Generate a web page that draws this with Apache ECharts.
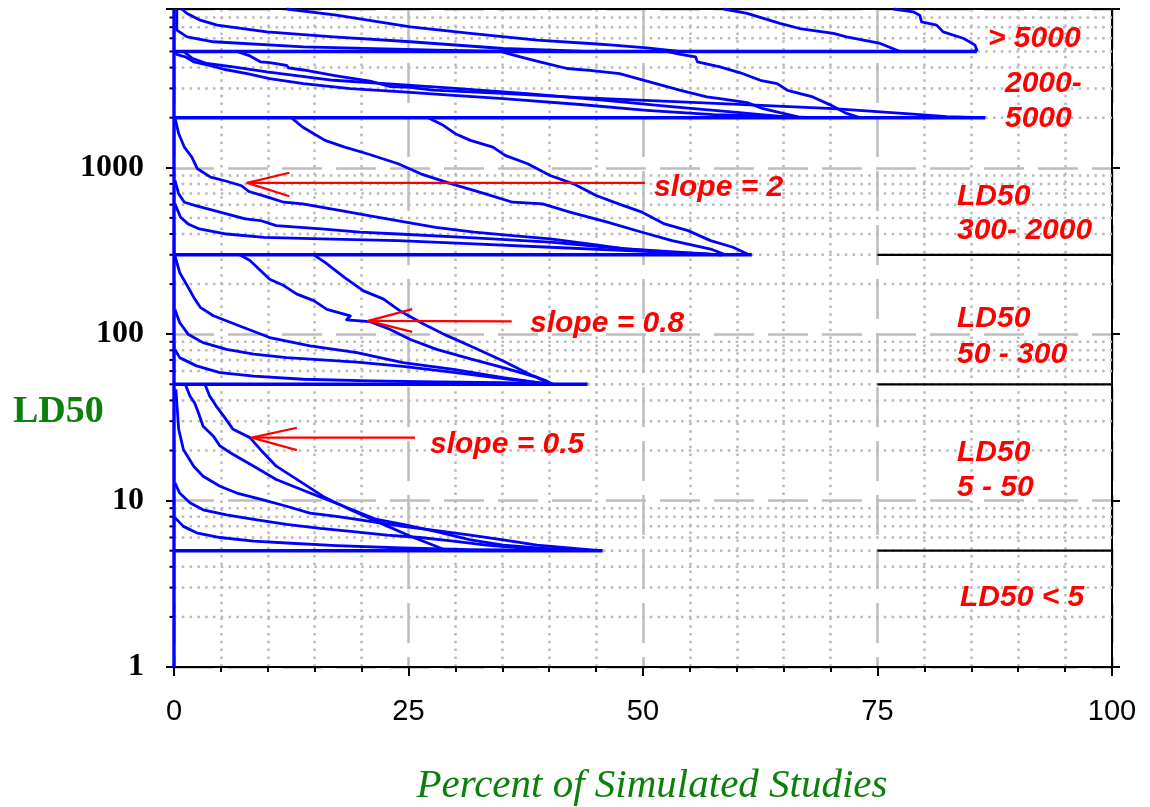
<!DOCTYPE html>
<html><head><meta charset="utf-8">
<script src="https://cdn.jsdelivr.net/npm/echarts/dist/echarts.min.js"></script>
<style>html,body{margin:0;padding:0;background:#fff}#c{width:1150px;height:807px}</style>
</head><body><div id="c"></div>
<script>
// ---------- data (x = percent of simulated studies, y = LD50) ----------
const xTickInterval = 25;
const yLabelValues = [1, 10, 100, 1000];
const minorYTicks = [2,3,4,5,6,7,8,9,20,30,40,50,60,70,80,90,200,300,400,500,600,700,800,900,2000,3000,4000,5000,6000,7000,8000];

// block LD50 5 - 50
const curveA1 = [[3.3,50],[3.8,42.5],[4.5,37],[5.3,32.2],[6.3,26.8],[8.1,23.9],[9.2,20.3],[10.9,16.1],[13.1,13.4],[15.9,10.6],[18.8,8.8],[21.6,7.5],[25.2,6.1],[28.0,5.3],[29.1,5]];
const curveA2 = [[1.2,50],[1.7,42.5],[2.2,38.6],[2.6,33.7],[3.1,28],[4.2,24.4],[4.9,21.3],[6.0,19.4],[8.5,16.1],[10.9,13.4],[14.5,11.1],[18.1,9.25],[21.6,7.7],[24.4,7.2],[28.0,6.5],[31.6,5.8],[35.1,5.4],[40.4,5.1],[45.4,5]];
const curveA3 = [[0.2,46.6],[0.5,26.8],[1.0,20.3],[2.1,16.1],[3.1,14],[4.9,12.2],[6.7,11.1],[9.5,10.1],[12,9.25],[14.5,8.4],[17.3,8.05],[20.9,7.5],[24.4,7.0],[28,6.6],[31.6,6.2],[35.1,5.8],[38.7,5.4],[45.4,5]];
const curveA4 = [[0.1,12.8],[0.6,11.1],[1.7,9.7],[3.1,8.8],[5.6,8.2],[8.5,7.7],[12,7.2],[15.6,6.8],[19.1,6.5],[22.7,6.2],[26.2,6.0],[29.8,5.7],[33.3,5.4],[36.9,5.2],[40.4,5.1],[45.4,5]];
const curveA5 = [[0.1,7.9],[1.0,7.0],[2.4,6.4],[4.9,6.0],[8.5,5.7],[12,5.56],[17.3,5.36],[24.4,5.19],[31.6,5.07],[45.4,5]];
// block LD50 50 - 300
const curveB1 = [[14.9,300],[16.1,270],[18.2,219],[20.2,182],[22.3,163],[24.1,138],[26.6,115],[29.1,98],[31.6,85],[35.1,69],[38.0,57],[39.7,52.4],[40.4,50]];
const curveB2 = [[7.0,300],[8.1,277],[10.2,214],[11.7,196],[13.1,174],[14.9,159],[16.3,141],[18.8,129],[18.4,122],[20.9,119],[23.0,107],[25.2,93],[28.0,81],[31.6,71],[35.1,63],[38.7,55],[40.1,50]];
const curveB3 = [[0.1,297],[0.6,235],[1.4,196],[2.2,163],[2.8,145],[4.2,129],[7.0,112],[10.2,95.5],[14.5,85],[19.5,77.5],[24.4,67.5],[29.8,61.5],[35.1,54.8],[40.1,50]];
const curveB4 = [[0.1,141],[0.6,117.6],[1.5,100],[3.1,89],[5.6,81],[8.5,75.8],[12.0,72.3],[19.5,68],[24.4,64],[29.8,59],[35.1,54],[40.4,50]];
const curveB5 = [[0.1,81],[0.6,72.3],[2.4,64.5],[4.9,58.8],[8.5,56],[13.8,53.6],[20.9,52.4],[28.0,51.6],[35.1,51.1],[39.7,50.3]];
// block LD50 300 - 2000
const curveC1 = [[27.1,2000],[28.7,1799],[30.0,1603],[31.6,1461],[34.0,1332],[35.3,1187],[37.7,1057],[40.1,899],[42.6,801],[45.0,681],[47.4,607],[49.9,541],[52.3,460],[54.8,419],[57.2,365],[59.6,333],[61.3,300]];
const curveC2 = [[12.5,2000],[13.7,1758],[14.9,1603],[16.1,1461],[18.2,1332],[20.6,1214],[23.9,1057],[26.3,920],[29.6,801],[33.2,697],[36.1,621],[39.3,607],[42.2,541],[46.2,471],[49.9,410],[53.1,365],[57.2,325],[58.8,300]];
const curveC3 = [[0.1,2000],[0.5,1603],[1.1,1332],[1.9,1159],[2.5,986],[3.9,879],[5.6,830],[7.2,780],[8.0,720],[10.0,666],[11.7,621],[13.7,607],[17.8,553],[21.8,504],[24.7,471],[27.9,439],[32.0,410],[36.1,391],[40.1,374],[44.2,349],[48.3,325],[52.3,311],[58.4,300]];
const curveC4 = [[0.1,839],[0.5,697],[1.1,621],[2.3,593],[4.3,553],[7.6,493],[9.2,482],[10.9,449],[15.7,429],[19.8,410],[23.9,400],[32.0,379],[40.1,357],[48.3,325],[58.4,300]];
const curveC5 = [[0.1,607],[0.7,504],[1.5,460],[2.7,429],[5.6,400],[9.6,382],[15.7,374],[23.9,365],[32.0,349],[40.1,333],[48.3,318],[58.4,300]];
// block LD50 2000 - 5000
const curveD1 = [[52.5,5000],[54.0,4800],[55.6,4645],[55.8,4330],[58.2,4045],[60.3,3735],[62.5,3355],[64.3,3205],[65.4,2923],[68.1,2665],[69.9,2397],[71.7,2122],[73.1,2000]];
const curveD2 = [[34.8,5000],[36.5,4710],[39.0,4330],[41.9,3950],[44.3,3855],[47.5,3680],[50.7,3280],[54.0,2923],[56.8,2665],[58.2,2605],[61.1,2465],[62.8,2265],[66.4,2030],[66.7,2000]];
const curveD3 = [[1.0,5000],[2.0,4535],[3.5,4234],[6.3,4043],[9.9,3770],[17.0,3357],[24.1,3163],[30,3000],[38,2780],[46,2540],[53,2330],[60,2150],[66,2000]];
const curveD4 = [[6.7,5000],[8.1,4700],[9.2,4335],[10.2,4290],[12.0,4130],[12.2,3985],[13.8,3870],[17.3,3570],[20.9,3320],[23.0,3080],[25.2,3040],[27.6,2930],[35,2800],[43.3,2640],[54.0,2490],[62,2380],[70.3,2265],[78.8,2100],[82.4,2030],[86.0,2000]];
const curveD5 = [[0.2,5000],[0.3,4795],[1.2,4645],[2.1,4335],[3.8,4130],[5.3,3910],[7.8,3680],[10.2,3435],[13.8,3205],[18.8,2990],[24.4,2857],[29.8,2727],[35.1,2605],[43.3,2400],[50.4,2215],[57.5,2085],[64.6,2035],[68.2,2000]];
// block LD50 > 5000
const curveE1 = [[76.7,9000],[78.8,8650],[79.5,8265],[79.7,7540],[81.3,7200],[82.0,6560],[84.2,5985],[85.4,5457],[85.6,5090],[85.2,5000]];
const curveE2 = [[58.6,9000],[61.1,8470],[64.6,7370],[66.7,6870],[70.3,6415],[71.7,6125],[75.3,5585],[77.4,5000]];
const curveE3 = [[12.0,9000],[17.3,8275],[25.2,7035],[31.6,6415],[38.7,5850],[44.3,5585],[46.8,5457],[50.4,5260],[53.9,5000]];
const curveE4 = [[0.8,9000],[1.4,8470],[2.8,7710],[4.6,7200],[9.9,6560],[17.0,6125],[25.2,5720],[35.1,5210],[44.0,5000]];
const curveE5 = [[0.3,9000],[0.3,6715],[1.4,6125],[4.2,5720],[13.8,5330],[28.0,5090],[35.0,5000]];

// block boundaries
const line5000 = [[0,5000],[85.6,5000]];
const line2000 = [[0,2000],[86.5,2000]];
const line300 = [[0,300],[61.6,300]];
const line50 = [[0,50],[44.1,50]];
const line5 = [[0,5],[45.7,5]];
const lineZero = [[0,1],[0,9000]];
const rangeLine300 = [[75,300],[100,300]];
const rangeLine50 = [[75,50],[100,50]];
const rangeLine5 = [[75,5],[100,5]];

// red arrows
const arrow2Shaft = [[7.8,812],[50.2,812]];
const arrow2Head = [[12.3,933],[7.8,812],[12.3,675]];
const arrow08Shaft = [[20.7,120.3],[36.0,119.5]];
const arrow08Head = [[25.4,141.5],[20.7,120.3],[25.4,103.3]];
const arrow05Shaft = [[8.3,23.9],[25.7,23.9]];
const arrow05Head = [[13.1,27.4],[8.3,23.9],[13.1,20.1]];

// texts
const rangeTexts = ['> 5000','2000-','5000','LD50','300- 2000','LD50','50 - 300','LD50','5 - 50','LD50 < 5'];
const slopeTexts = ['slope = 2','slope = 0.8','slope = 0.5'];
const yName = 'LD50';
const xName = 'Percent of Simulated Studies';

// ---------- chart ----------
const chart = echarts.init(document.getElementById('c'), null, {renderer:'canvas'});
const blue = '#0000ff';
const curves = [curveA1,curveA2,curveA3,curveA4,curveA5,curveB1,curveB2,curveB3,curveB4,curveB5,
  curveC1,curveC2,curveC3,curveC4,curveC5,curveD1,curveD2,curveD3,curveD4,curveD5,
  curveE1,curveE2,curveE3,curveE4,curveE5];
const bounds = [line5000,line2000,line300,line50,line5];
const lineS = (d, color, width, z) => ({type:'line', data:d, symbol:'none', showSymbol:false, silent:true,
  lineStyle:{color:color, width:width, cap:'butt', join:'round'}, z:z, animation:false});

const series = [];
series.push({
  type:'custom', data: minorYTicks.map(v => [0, v]), z:1, silent:true, animation:false, clip:false,
  encode:{x:0, y:1},
  renderItem: function(params, api){
    const v = api.value(1);
    const p0 = api.coord([0, v]);
    const p1 = api.coord([100, v]);
    return {type:'group', children:[
      {type:'line', shape:{x1:p0[0], y1:p0[1], x2:p1[0], y2:p1[1]}, style:{stroke:'#b9b9b9', lineWidth:2.5, lineDash:[2.5,5.3]}},
      {type:'line', shape:{x1:p0[0]-4.5, y1:p0[1], x2:p0[0], y2:p0[1]}, style:{stroke:'#000', lineWidth:2}}
    ]};
  }
});
curves.forEach(d => series.push(lineS(d, blue, 2.8, 3)));
bounds.forEach(d => series.push(lineS(d, blue, 3.6, 4)));
series.push(lineS(lineZero, blue, 3.4, 5));
[rangeLine300, rangeLine50, rangeLine5].forEach(d => series.push(lineS(d, '#000', 2.2, 4)));
[arrow2Shaft, arrow2Head, arrow08Shaft, arrow08Head, arrow05Shaft, arrow05Head].forEach(d => series.push(lineS(d, '#ff0000', 2.2, 6)));

const redFont = {fill:'#ff0000', fontSize:30, fontWeight:'bold', fontStyle:'italic', fontFamily:'"Liberation Sans", Arial, sans-serif', align:'left', verticalAlign:'middle'};
const rangePos = [[988,39],[1005,84],[1005,119],[957,197],[957,231],[957,319],[957,355],[957,453],[957,488],[960,598]];
const slopePos = [[654,188],[530,324],[430,445]];
const graphics = [];
rangeTexts.forEach((t,i) => graphics.push({type:'text', x:rangePos[i][0], y:rangePos[i][1], silent:true, z:100, style:Object.assign({text:t}, redFont)}));
slopeTexts.forEach((t,i) => graphics.push({type:'text', x:slopePos[i][0], y:slopePos[i][1], silent:true, z:100, style:Object.assign({text:t}, redFont)}));
graphics.push({type:'text', x:13, y:412, silent:true, style:{text:yName, fill:'#0b800b', fontSize:38, fontWeight:'bold', fontFamily:'"Liberation Serif", "Times New Roman", serif', align:'left', verticalAlign:'middle'}});
graphics.push({type:'text', x:652, y:786, silent:true, style:{text:xName, fill:'#0b800b', fontSize:41, fontStyle:'italic', fontFamily:'"Liberation Serif", "Times New Roman", serif', align:'center', verticalAlign:'middle'}});

const option = {
  animation:false,
  backgroundColor:'#ffffff',
  grid:{left:174, right:38, top:9, bottom:140, containLabel:false, outerBoundsMode:'none'},
  xAxis:[{
    type:'value', min:0, max:100, interval:xTickInterval, position:'bottom',
    axisLine:{show:true, onZero:false, lineStyle:{color:'#000', width:2}},
    axisTick:{show:true, inside:false, length:9, lineStyle:{color:'#000', width:2}},
    minorTick:{show:true, splitNumber:5, length:5, lineStyle:{color:'#000', width:2}},
    axisLabel:{show:true, margin:30, color:'#000', fontSize:29, fontFamily:'"Liberation Sans", Arial, sans-serif',
      formatter: v => String(v)},
    splitLine:{show:true, lineStyle:{color:'#bdbdbd', width:2.5, type:[40,14]}},
    minorSplitLine:{show:true, lineStyle:{color:'#b9b9b9', width:2.5, type:[2.5,5.3]}}
  },{
    type:'value', min:0, max:100, position:'top',
    axisLine:{show:true, onZero:false, lineStyle:{color:'#000', width:2}},
    axisTick:{show:false}, axisLabel:{show:false}, splitLine:{show:false}
  }],
  yAxis:[{
    type:'log', logBase:10, min:1, max:9000, position:'left',
    axisLine:{show:true, onZero:false, lineStyle:{color:'#000', width:2}},
    axisTick:{show:true, inside:false, length:8, lineStyle:{color:'#000', width:2}},
    axisLabel:{show:true, margin:30, color:'#000', fontSize:32, fontWeight:'bold', fontFamily:'"Liberation Serif", "Times New Roman", serif',
      formatter: v => { const r = Math.round(v); return yLabelValues.indexOf(r) >= 0 ? String(r) : ''; }},
    splitLine:{show:true, lineStyle:{color:'#bdbdbd', width:2.5, type:[40,14]}}
  },{
    type:'log', logBase:10, min:1, max:9000, position:'right',
    axisLine:{show:true, onZero:false, lineStyle:{color:'#000', width:2}},
    axisTick:{show:true, inside:false, length:8, lineStyle:{color:'#000', width:2}},
    axisLabel:{show:false}, splitLine:{show:false}
  }],
  series: series,
  graphic: graphics
};
chart.setOption(option);
</script></body></html>
